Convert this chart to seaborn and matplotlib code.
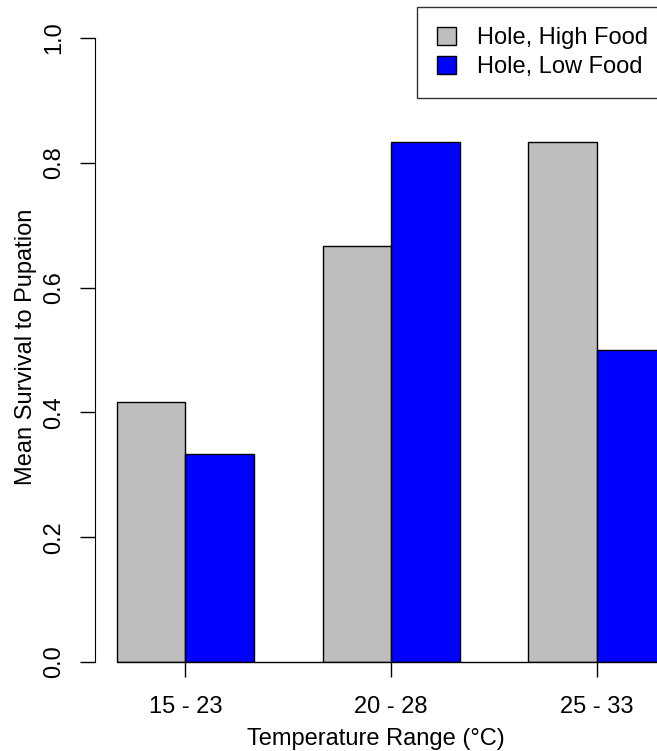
import pandas as pd
import matplotlib.pyplot as plt
import seaborn as sns
from matplotlib.patches import Patch

sns.set_style("white")
plt.rcParams['font.family'] = ['Liberation Sans', 'DejaVu Sans']
plt.rcParams['text.color'] = 'black'
plt.rcParams['axes.labelcolor'] = 'black'
plt.rcParams['xtick.color'] = 'black'
plt.rcParams['ytick.color'] = 'black'

# data
temps = ['15 - 23', '20 - 28', '25 - 33']
high_food = [0.4167, 0.6667, 0.8333]
low_food = [0.3333, 0.8333, 0.5]
groups = ['Hole, High Food', 'Hole, Low Food']
colors = ['#BEBEBE', '#0000FF']

df = pd.DataFrame({
    'temp': temps * 2,
    'survival': high_food + low_food,
    'group': [groups[0]] * 3 + [groups[1]] * 3,
})

fig = plt.figure(figsize=(6.57, 7.51), dpi=100)
W, H = 657, 751
ax = fig.add_axes([95 / W, (H - 662) / H, (W - 95) / W, 624 / H])

sns.barplot(data=df, x='temp', y='survival', hue='group', palette=colors,
            width=2/3, gap=0, edgecolor='black', linewidth=1, ax=ax,
            errorbar=None, legend=False, saturation=1)

x0, x1 = -0.4403, 2.294
ax.set_xlim(x0, x1)
ax.set_ylim(0, 1)
for s in ['top', 'right', 'bottom']:
    ax.spines[s].set_visible(False)
ax.spines['left'].set_bounds(0, 1)
ax.spines['left'].set_color('black')
ax.axhline(0, xmin=(-1/3 - x0) / (x1 - x0), xmax=1, color='black', lw=1,
           zorder=5, clip_on=False)

ax.set_yticks([0, 0.2, 0.4, 0.6, 0.8, 1.0])
ax.set_yticklabels(['0.0', '0.2', '0.4', '0.6', '0.8', '1.0'], rotation=90, va='center')
ax.tick_params(axis='y', direction='out', length=10.5, width=1, color='black',
               left=True, labelsize=17, pad=11)
ax.tick_params(axis='x', direction='out', length=10.5, width=1, color='black',
               bottom=True, labelsize=17, pad=14)
ax.set_xlabel('Temperature Range (°C)', fontsize=17, labelpad=7)
ax.set_ylabel('Mean Survival to Pupation', fontsize=17)
ax.yaxis.set_label_coords(-0.103, 0.505)

handles = [Patch(facecolor=c, edgecolor='black', linewidth=1) for c in colors]
fig.legend(handles, groups, loc='upper left', bbox_to_anchor=(417 / W, 1 - 7 / H),
           frameon=True, fancybox=False, edgecolor='black', fontsize=17,
           handlelength=0.8, handleheight=0.8, handletextpad=0.9,
           borderpad=0.85, labelspacing=0.28, borderaxespad=0)

fig.savefig('out.png', dpi=100)
